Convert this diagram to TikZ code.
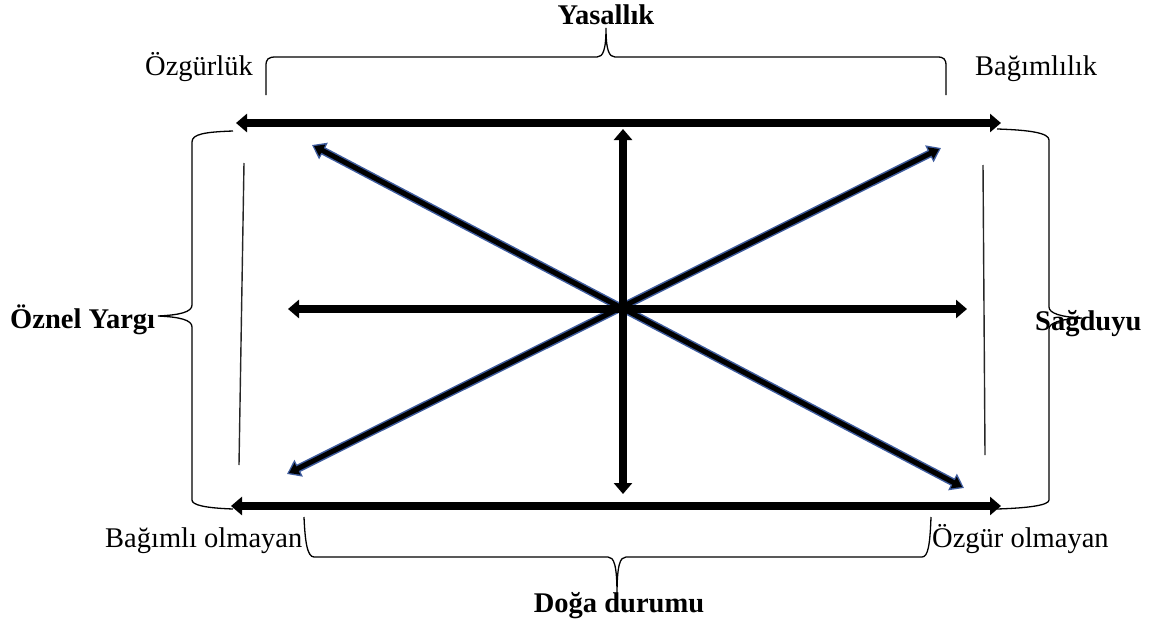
\documentclass[tikz,border=0pt]{standalone}
\usepackage{fontspec}
\setmainfont{Liberation Serif}
\usetikzlibrary{arrows.meta}
\definecolor{dblue}{RGB}{62,92,158}
\tikzset{
  lbl/.style={anchor=base west, inner sep=0pt, font=\fontsize{28.5}{32}\selectfont},
  blbl/.style={inner sep=0pt, font=\fontsize{28.5}{32}\selectfont\bfseries},
  bigarrow/.style={line width=7.6pt, black, {Triangle[length=11pt,width=18pt]}-{Triangle[length=11pt,width=18pt]}},
  diagout/.style={line width=8pt, dblue, {Triangle[length=13pt,width=18pt]}-{Triangle[length=13pt,width=18pt]}},
  diagin/.style={line width=5pt, black, shorten <=2.2pt, shorten >=2.2pt, {Triangle[length=9.5pt,width=12.5pt]}-{Triangle[length=9.5pt,width=12.5pt]}},
  bracepath/.style={line width=1.3pt, black},
  thinline/.style={line width=1.4pt, black!85}
}
\begin{document}
\begin{tikzpicture}[x=1pt,y=-1pt]
\useasboundingbox (0,0) rectangle (1153,626);
% coordinates
\coordinate (tl) at (236,123); \coordinate (tr) at (1001,123);
\coordinate (bl) at (231,506); \coordinate (br) at (1001,506);
\coordinate (ml) at (288,309); \coordinate (mr) at (967,309);
\coordinate (vt) at (623,129); \coordinate (vb) at (623,494);
\coordinate (d1a) at (312,145); \coordinate (d1b) at (964,488);
\coordinate (d2a) at (941,148); \coordinate (d2b) at (287,474);
\coordinate (l1a) at (244,163); \coordinate (l1b) at (239,465);
\coordinate (l2a) at (983,165); \coordinate (l2b) at (985,455);
% diagonals
\draw[diagout] (d1a) -- (d1b);
\draw[diagout] (d2a) -- (d2b);
\draw[diagin] (d1a) -- (d1b);
\draw[diagin] (d2a) -- (d2b);
% main arrows
\draw[bigarrow] (tl) -- (tr);
\draw[bigarrow] (bl) -- (br);
\draw[bigarrow] (ml) -- (mr);
\draw[bigarrow] (vt) -- (vb);
% thin lines
\draw[thinline] (l1a) -- (l1b);
\draw[thinline] (l2a) -- (l2b);
% braces
\draw[bracepath] (266,95) -- (266,66) .. controls (266,59) and (268,57) .. (276,57) -- (597,57)
  .. controls (603,57) and (606,50) .. (606,28) .. controls (606,50) and (609,57) .. (615,57)
  -- (937,57) .. controls (944,57) and (946,59) .. (946,66) -- (946,95);
\draw[bracepath] (233,131) .. controls (205,132) and (192,134) .. (192,142) -- (192,305)
  .. controls (192,312) and (180,315) .. (158,316) .. controls (180,317) and (192,320) .. (192,327)
  -- (192,500) .. controls (192,505) and (205,508) .. (233,509);
\draw[bracepath] (997,129) .. controls (1030,130) and (1049,133) .. (1049,140) -- (1049,307)
  .. controls (1049,313) and (1060,317) .. (1082,318) .. controls (1060,319) and (1049,323) .. (1049,329)
  -- (1049,500) .. controls (1049,505) and (1030,508) .. (997,509);
\draw[bracepath] (304,517) .. controls (305,540) and (307,557) .. (314,557) -- (608,557)
  .. controls (614,557) and (617,565) .. (617,595) .. controls (617,565) and (620,557) .. (626,557)
  -- (922,557) .. controls (928,557) and (930,545) .. (931,517);
% labels
\node[blbl, anchor=base] (yas) at (606,25) {Yasallık};
\node[lbl] (ozg) at (145,75) {Özgürlük};
\node[lbl] (bag) at (975,75) {Bağımlılık};
\node[blbl, anchor=base west] (oy) at (10,328) {Öznel Yargı};
\node[blbl, anchor=base west] (sag) at (1035,330) {Sağduyu};
\node[lbl] (bo) at (105,547) {Bağımlı olmayan};
\node[lbl] (oo) at (932,547) {Özgür olmayan};
\node[blbl, anchor=base] (dd) at (619,612) {Doğa durumu};
\end{tikzpicture}
\end{document}
